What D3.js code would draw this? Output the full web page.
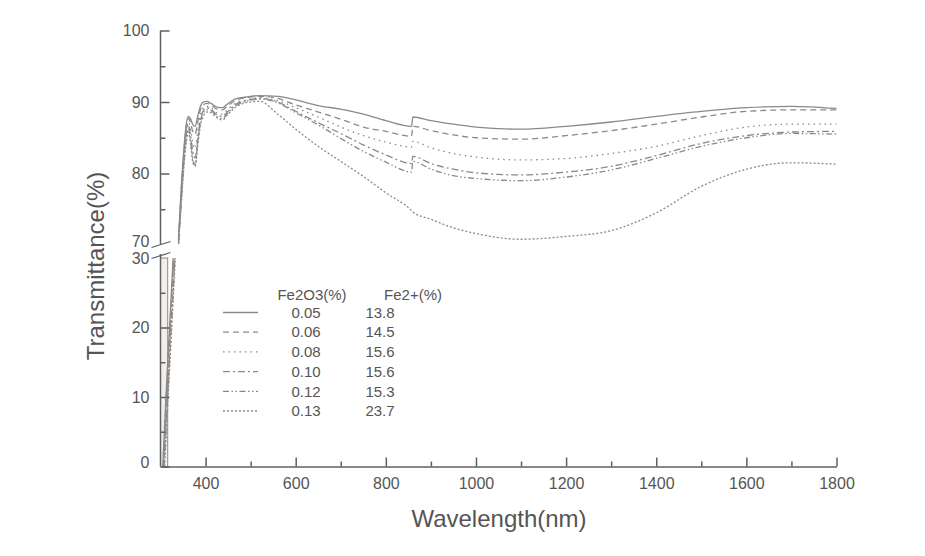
<!DOCTYPE html>
<html>
<head>
<meta charset="utf-8">
<script src="https://cdn.jsdelivr.net/npm/d3@7/dist/d3.min.js"></script>
<style>
  html, body { margin: 0; padding: 0; background: #fff; }
  svg { display: block; }
  text { font-family: "Liberation Sans", Arial, sans-serif; fill: #555; }
</style>
</head>
<body>
<svg id="chart" width="925" height="556"></svg>
<script>
// ---------- DATA ----------
const fe2o3 = ["0.05", "0.06", "0.08", "0.10", "0.12", "0.13"];
const fe2plus = ["13.8", "14.5", "15.6", "15.6", "15.3", "23.7"];

const xTicks = [400, 600, 800, 1000, 1200, 1400, 1600, 1800];
const xMinorTicks = [500, 700, 900, 1100, 1300, 1500, 1700];
const yUpperTicks = [80, 90, 100];
const yUpperMinor = [75, 85, 95];
const yLowerTicks = [0, 10, 20];
const yLowerMinor = [5, 15, 25];

// lower panel (0-30 %): wavelength at which each curve crosses these levels
const lowLevels = [0, 10, 20, 30];
const low005 = [305, 312, 320, 328];
const low006 = [306, 313, 321, 329];
const low008 = [307, 314, 322, 330];
const low010 = [307, 315, 323, 331];
const low012 = [308, 316, 324, 332];
const low013 = [309, 317, 325, 333];

// upper panel (70-100 %)
const wavelengths = [340, 346, 352, 357, 362, 367, 372, 377, 382, 388, 395, 403, 412, 425, 437, 450, 465, 490, 520, 560, 600, 650, 700, 750, 800, 857, 860, 900, 950, 1000, 1100, 1200, 1300, 1400, 1500, 1600, 1700, 1800];
const s005 = [71.0, 78.0, 83.5, 86.8, 88.0, 87.6, 86.8, 86.6, 87.8, 89.3, 90.0, 90.1, 89.8, 89.3, 89.2, 89.8, 90.4, 90.7, 90.9, 90.8, 90.3, 89.5, 89.0, 88.3, 87.4, 86.6, 87.9, 87.4, 86.9, 86.5, 86.2, 86.6, 87.2, 88.0, 88.7, 89.2, 89.4, 89.1];
const s006 = [70.8, 77.5, 83.0, 86.4, 87.7, 87.0, 85.8, 85.5, 87.0, 88.8, 89.6, 89.8, 89.6, 89.0, 88.9, 89.5, 90.2, 90.6, 90.8, 90.5, 89.6, 88.6, 87.6, 86.5, 85.9, 85.2, 86.6, 86.0, 85.4, 85.0, 84.8, 85.3, 86.0, 86.9, 87.9, 88.7, 88.9, 88.9];
const s008 = [70.6, 77.0, 82.5, 85.8, 87.2, 86.0, 84.2, 83.5, 85.5, 88.0, 89.2, 89.4, 89.2, 88.5, 88.3, 89.0, 89.8, 90.3, 90.6, 90.2, 89.2, 87.9, 86.5, 85.3, 84.4, 83.7, 84.5, 83.6, 82.8, 82.3, 81.9, 82.1, 82.8, 83.8, 85.3, 86.5, 86.9, 86.9];
const s010 = [70.4, 76.5, 82.0, 85.3, 86.8, 85.2, 83.0, 82.2, 84.5, 87.5, 88.8, 89.2, 89.0, 88.2, 88.0, 88.7, 89.6, 90.2, 90.5, 90.0, 88.7, 87.1, 85.6, 84.0, 82.6, 81.4, 82.4, 81.4, 80.6, 80.1, 79.8, 80.2, 81.0, 82.5, 84.2, 85.3, 85.8, 85.9];
const s012 = [70.2, 76.0, 81.5, 84.8, 86.3, 84.5, 82.0, 81.2, 84.0, 87.0, 88.5, 88.9, 88.8, 88.0, 87.7, 88.5, 89.4, 90.1, 90.4, 89.9, 88.5, 86.8, 84.9, 83.1, 81.6, 80.2, 81.7, 80.6, 79.7, 79.3, 79.0, 79.5, 80.5, 82.1, 83.8, 85.0, 85.6, 85.5];
const s013 = [70.1, 75.5, 81.0, 84.3, 85.8, 84.0, 81.5, 81.0, 83.5, 86.5, 88.0, 88.6, 88.5, 87.8, 87.5, 88.3, 89.2, 89.9, 90.1, 88.3, 86.2, 83.8, 81.7, 79.6, 77.3, 74.8, 74.6, 73.6, 72.4, 71.6, 70.8, 71.2, 72.0, 74.5, 78.2, 80.6, 81.5, 81.3];

const upperSeries = [s005, s006, s008, s010, s012, s013];
const lowerSeries = [low005, low006, low008, low010, low012, low013];

// ---------- STYLE ----------
const dashes = ["none", "6,4", "1.5,4", "7,3,2,3", "6,2.5,1.5,2.5,1.5,2.5", "2,2"];
const lineColor = "#8a8a8a";
const axisColor = "#606060";
const fontFam = '"Liberation Sans", Arial, sans-serif';

// ---------- SCALES ----------
const svg = d3.select("#chart");
const x = d3.scaleLinear().domain([300, 1800]).range([160.5, 836.5]);
const yUp = d3.scaleLinear().domain([70, 100]).range([245, 30.5]);
const yLow = d3.scaleLinear().domain([0, 30]).range([466.5, 258]);

// light rectangle in lower panel
svg.append("rect")
  .attr("x", x(300)).attr("y", yLow(30))
  .attr("width", x(316) - x(300)).attr("height", yLow(0) - yLow(30))
  .attr("fill", "#f4eeea").attr("stroke", "#8a8a8a").attr("stroke-width", 1);

// ---------- CURVES ----------
const lineUp = d3.line().x(d => x(d[0])).y(d => yUp(d[1])).curve(d3.curveMonotoneX);
const lineLow = d3.line().x(d => x(d[0])).y(d => yLow(d[1]));

const gCurves = svg.append("g");
upperSeries.forEach((vals, i) => {
  const pts = wavelengths.map((w, j) => [w, vals[j]]);
  gCurves.append("path")
    .attr("d", lineUp(pts))
    .attr("fill", "none").attr("stroke", lineColor)
    .attr("stroke-width", 1.3)
    .attr("stroke-dasharray", dashes[i]);
  const lpts = lowerSeries[i].map((w, j) => [w, lowLevels[j]]);
  gCurves.append("path")
    .attr("d", lineLow(lpts))
    .attr("fill", "none").attr("stroke", lineColor)
    .attr("stroke-width", 1.3)
    .attr("stroke-dasharray", dashes[i]);
});

// ---------- AXES ----------
function styleAxis(g) {
  g.selectAll("path, line").attr("stroke", axisColor).attr("stroke-width", 1.5);
  g.selectAll("text").attr("fill", "#555").style("font-size", "16px")
    .style("font-family", fontFam);
}

// x axis
const gx = svg.append("g").attr("transform", `translate(0,${yLow(0)})`)
  .call(d3.axisBottom(x).tickValues(xTicks).tickFormat(d3.format("d"))
    .tickSize(-9).tickSizeOuter(0).tickPadding(11));
styleAxis(gx);
svg.append("g").attr("transform", `translate(0,${yLow(0)})`)
  .call(d3.axisBottom(x).tickValues(xMinorTicks).tickSize(-5).tickFormat(""))
  .call(g => g.select(".domain").remove())
  .call(styleAxis);

// upper y axis
const gyU = svg.append("g").attr("transform", `translate(${x(300)},0)`)
  .call(d3.axisLeft(yUp).tickValues(yUpperTicks).tickSize(-9).tickSizeOuter(0).tickPadding(11));
styleAxis(gyU);
gyU.select(".domain").attr("d", `M0,${yUp(100)}V${yUp(70) - 1}`);
svg.append("g").attr("transform", `translate(${x(300)},0)`)
  .call(d3.axisLeft(yUp).tickValues(yUpperMinor).tickSize(-5).tickFormat(""))
  .call(g => g.select(".domain").remove())
  .call(styleAxis);

// lower y axis
const gyL = svg.append("g").attr("transform", `translate(${x(300)},0)`)
  .call(d3.axisLeft(yLow).tickValues(yLowerTicks).tickSize(-9).tickSizeOuter(0).tickPadding(11));
styleAxis(gyL);
gyL.select(".domain").attr("d", `M0,${yLow(30) - 4}V${yLow(0)}`);
gyL.selectAll(".tick text").filter(d => d === 0).attr("y", -4);
svg.append("g").attr("transform", `translate(${x(300)},0)`)
  .call(d3.axisLeft(yLow).tickValues(yLowerMinor).tickSize(-5).tickFormat(""))
  .call(g => g.select(".domain").remove())
  .call(styleAxis);

// break labels 70 / 30 with slanted marks
const ax0 = x(300);
svg.append("text").attr("x", ax0 - 11).attr("y", yUp(70) - 3.5).attr("dy", "0.32em")
  .attr("text-anchor", "end").style("font-size", "16px").text("70");
svg.append("text").attr("x", ax0 - 11).attr("y", yLow(30) + 1).attr("dy", "0.32em")
  .attr("text-anchor", "end").style("font-size", "16px").text("30");
[[yUp(70) + 2.5, yUp(70) - 3.5], [yLow(30) + 0.5, yLow(30) - 5.5]].forEach(([y1, y2]) => {
  svg.append("line")
    .attr("x1", ax0 - 9).attr("y1", y1)
    .attr("x2", ax0 + 10).attr("y2", y2)
    .attr("stroke", axisColor).attr("stroke-width", 1.3);
});

// axis titles
svg.append("text").attr("x", 499).attr("y", 527)
  .attr("text-anchor", "middle").style("font-size", "24px").text("Wavelength(nm)");
svg.append("text")
  .attr("transform", `translate(104,266) rotate(-90)`)
  .attr("text-anchor", "middle").style("font-size", "24px").text("Transmittance(%)");

// ---------- LEGEND ----------
const lg = svg.append("g");
lg.append("text").attr("x", 312).attr("y", 295).attr("dy", "0.35em")
  .attr("text-anchor", "middle").style("font-size", "15px").text("Fe2O3(%)");
lg.append("text").attr("x", 413).attr("y", 295).attr("dy", "0.35em")
  .attr("text-anchor", "middle").style("font-size", "15px").text("Fe2+(%)");
fe2o3.forEach((v, i) => {
  const yy = 312.5 + i * 19.7;
  lg.append("line").attr("x1", 223).attr("x2", 258).attr("y1", yy).attr("y2", yy)
    .attr("stroke", lineColor).attr("stroke-width", 1.3).attr("stroke-dasharray", dashes[i]);
  lg.append("text").attr("x", 306).attr("y", yy).attr("dy", "0.35em")
    .attr("text-anchor", "middle").style("font-size", "15px").text(v);
  lg.append("text").attr("x", 380).attr("y", yy).attr("dy", "0.35em")
    .attr("text-anchor", "middle").style("font-size", "15px").text(fe2plus[i]);
});
</script>
</body>
</html>
